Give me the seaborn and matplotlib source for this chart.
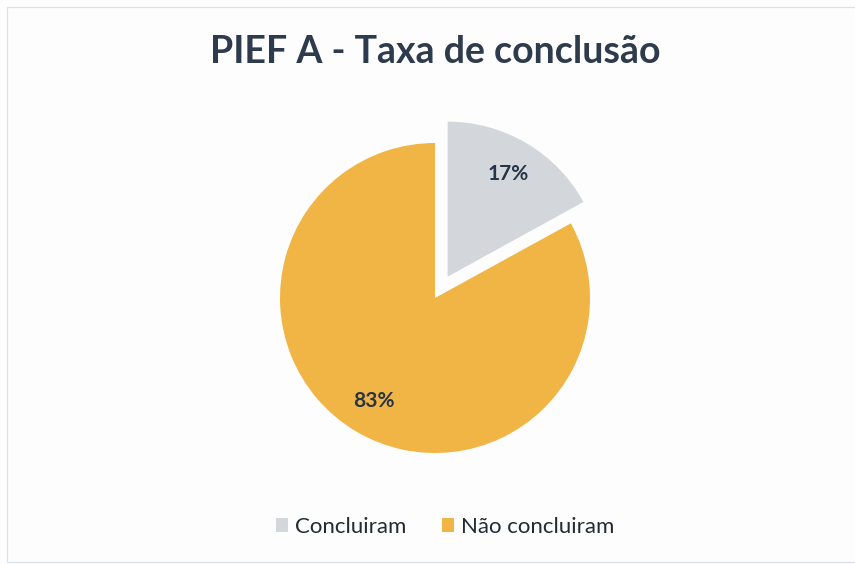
import matplotlib
matplotlib.use("Agg")
import matplotlib.pyplot as plt
import seaborn as sns
from matplotlib.patches import Rectangle

categories = ["Concluiram", "Não concluiram"]
shares = [17, 83]
slice_colors = ["#D3D7DC", "#F0B545"]
title_text = "PIEF A - Taxa de conclusão"

sns.set_theme(style="white")
plt.rcParams["font.family"] = ["Lato", "DejaVu Sans"]

fig = plt.figure(figsize=(8.55, 5.64), dpi=100)
fig.patch.set_facecolor("#FDFDFE")

# thin chart-area frame
fig.add_artist(Rectangle((7 / 855, 2 / 564), 850 / 855, 555 / 564,
                         transform=fig.transFigure, fill=False,
                         edgecolor="#DCE2EA", linewidth=0.9))

R = 155
ax = fig.add_axes([(435 - 1.2 * R) / 855, (266 - 1.2 * R) / 564,
                   2.4 * R / 855, 2.4 * R / 564])
ax.set_facecolor("none")

wedges, _, autotexts = ax.pie(
    shares,
    colors=slice_colors,
    startangle=90,
    counterclock=False,
    explode=[0.16, 0],
    autopct=lambda p: f"{p:.0f}%",
    pctdistance=0.77,
    radius=1.0,
    wedgeprops=dict(linewidth=0),
    textprops=dict(color="#263445", fontsize=15, fontweight="bold"),
)
ax.set_xlim(-1.2, 1.2)
ax.set_ylim(-1.2, 1.2)
ax.set_aspect("equal")
ax.axis("off")

fig.text(435 / 855, 1 - 52 / 564, title_text, ha="center", va="center",
         fontsize=27, fontweight="bold", color="#2D3B4C")

handles = [Rectangle((0, 0), 1, 1, facecolor=c, edgecolor="none") for c in slice_colors]
fig.legend(handles, categories, loc="center", bbox_to_anchor=(445 / 855, 1 - 527 / 564),
           ncol=2, frameon=False, fontsize=16, handlelength=0.55, handleheight=0.55,
           handletextpad=0.3, columnspacing=1.6, labelcolor="#222A33")

fig.savefig("out.png", dpi=100, facecolor=fig.get_facecolor())
